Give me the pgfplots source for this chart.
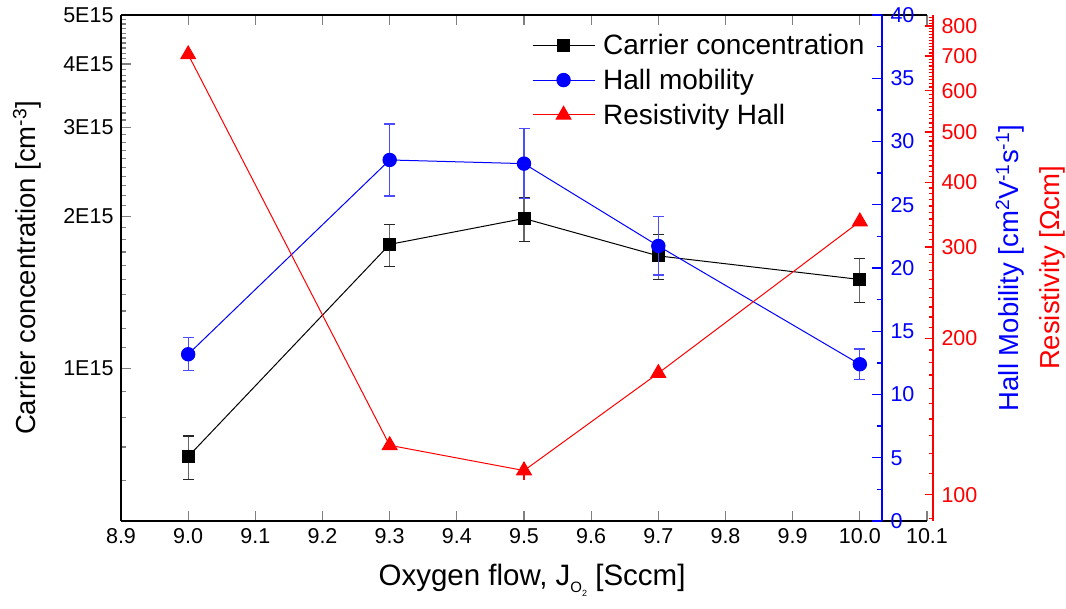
\documentclass[border=0pt]{standalone}
\usepackage{pgfplots}
\pgfplotsset{compat=1.18}
\usepackage{fontspec}
\setmainfont{Liberation Sans}
\begin{document}
\begin{tikzpicture}[x=1pt,y=1pt]
\path[use as bounding box] (0,0) rectangle (1066,608);
\pgfplotsset{
  every axis/.append style={
    scale only axis, height=506pt,
    at={(121pt,87pt)}, anchor=south west,
    xmin=8.9,
    tick label style={font=\fontsize{21.5}{24}\selectfont},
    label style={font=\fontsize{27.5}{30}\selectfont},
    /pgf/number format/assume math mode=true,
    tick style={line width=1.3pt},
  }
}
% ---------------- main axis: carrier concentration ----------------
\begin{axis}[
  width=806pt, xmax=10.1,
  axis x line*=box, axis y line*=left,
  axis line style={line width=1.6pt,-},
  ymode=log, ymin=5e14, ymax=5e15,
  xtick={8.9,9,9.1,9.2,9.3,9.4,9.5,9.6,9.7,9.8,9.9,10,10.1},
  xticklabels={8.9,9.0,9.1,9.2,9.3,9.4,9.5,9.6,9.7,9.8,9.9,10.0,10.1},
  xtick pos=both, ytick pos=left,
  ytick={1e15,2e15,3e15,4e15,5e15},
  yticklabels={1E15,2E15,3E15,4E15,5E15},
  minor ytick={6e14,7e14,8e14,9e14,1.1e15,1.2e15,1.3e15,1.4e15,1.5e15,1.6e15,1.7e15,1.8e15,1.9e15,2.1e15,2.2e15,2.3e15,2.4e15,2.5e15,2.6e15,2.7e15,2.8e15,2.9e15,3.1e15,3.2e15,3.3e15,3.4e15,3.5e15,3.6e15,3.7e15,3.8e15,3.9e15,4.1e15,4.2e15,4.3e15,4.4e15,4.5e15,4.6e15,4.7e15,4.8e15,4.9e15},
  major tick length=10pt, minor tick length=5pt,
  xticklabel style={yshift=-4pt},
  yticklabel style={xshift=-4pt},
  xlabel={Oxygen flow, J\raisebox{-0.45ex}{\fontsize{15}{15}\selectfont O\raisebox{-0.5ex}{\fontsize{9}{9}\selectfont 2}} [Sccm]},
  xlabel style={font=\fontsize{29.5}{32}\selectfont, at={(axis description cs:0.51,-0.1166)}, anchor=center},
  ylabel={Carrier concentration [cm\textsuperscript{-3}]},
  ylabel style={at={(axis description cs:-0.1166,0.5)}, anchor=center},
]
\addplot[black, line width=1pt, mark=square*, mark size=6pt, mark options={solid},
  error bars/.cd, y dir=both, y explicit,
  error bar style={black!60, line width=1.2pt},
  error mark options={black!85, rotate=90, mark size=5.5pt, line width=1.2pt}]
  coordinates {
  (9.0,6.70e14) +- (0,0.66e14)
  (9.3,1.76e15) +- (0,0.17e15)
  (9.5,1.98e15) +- (0,0.20e15)
  (9.7,1.67e15) +- (0,0.17e15)
  (10.0,1.50e15) +- (0,0.15e15)
  };
\end{axis}
% ---------------- blue axis: Hall mobility ----------------
\begin{axis}[
  width=761pt, xmax=10.0330,
  axis x line=none, axis y line*=right,
  y axis line style={blue, line width=1.6pt, -},
  ymin=0, ymax=40,
  ytick={0,5,10,15,20,25,30,35,40},
  minor ytick={2.5,7.5,12.5,17.5,22.5,27.5,32.5,37.5},
  major tick length=10pt, minor tick length=5pt,
  ytick style={blue, line width=1.3pt},
  yticklabel style={blue, xshift=5pt},
  ylabel={Hall Mobility [cm\textsuperscript{2}V\textsuperscript{-1}s\textsuperscript{-1}]},
  ylabel style={blue, at={(axis description cs:1.168,0.5)}, anchor=center},
]
\addplot[blue, line width=1pt, mark=*, mark size=6.7pt, mark options={solid},
  error bars/.cd, y dir=both, y explicit,
  error bar style={blue!70, line width=1.2pt},
  error mark options={blue!70, rotate=90, mark size=5.5pt, line width=1.2pt}]
  coordinates {
  (9.0,13.18) +- (0,1.30)
  (9.3,28.54) +- (0,2.85)
  (9.5,28.25) +- (0,2.75)
  (9.7,21.74) +- (0,2.30)
  (10.0,12.39) +- (0,1.20)
  };
\end{axis}
% ---------------- red axis: resistivity ----------------
\begin{axis}[
  width=812pt, xmax=10.1089,
  axis x line=none, axis y line*=right,
  y axis line style={red, line width=1.6pt, -},
  ymode=log, ymin=89, ymax=840,
  ytick={100,200,300,400,500,600,700,800},
  yticklabels={100,200,300,400,500,600,700,800},
  minor ytick={90,110,120,130,140,150,160,170,180,190,210,220,230,240,250,260,270,280,290,310,320,330,340,350,360,370,380,390,410,420,430,440,450,460,470,480,490,510,520,530,540,550,560,570,580,590,610,620,630,640,650,660,670,680,690,710,720,730,740,750,760,770,780,790,810,820,830},
  major tick length=8pt, minor tick length=4pt,
  ytick style={red, line width=1.3pt},
  yticklabel style={red, xshift=5pt},
  ylabel={Resistivity [Ωcm]},
  ylabel style={red, at={(axis description cs:1.1466,0.5)}, anchor=center},
  legend cell align=left,
  legend style={draw=none, fill=none, inner sep=0pt,
    at={(axis description cs:0.506,0.966)}, anchor=north west,
    font=\fontsize{28}{31}\selectfont, row sep=9pt,
    nodes={inner sep=2pt},
    /tikz/every odd column/.append style={column sep=6pt}},
  legend image code/.code={\draw[#1, mark repeat=2, mark phase=2] plot coordinates {(0pt,0pt) (31pt,0pt) (62pt,0pt)};},
]
\addlegendimage{black, line width=1pt, mark=square*, mark size=6pt, mark options={solid}}
\addlegendentry{Carrier concentration}
\addlegendimage{blue, line width=1pt, mark=*, mark size=6.7pt, mark options={solid}}
\addlegendentry{Hall mobility}
\addplot[red, line width=1pt, mark=triangle*, mark size=8.5pt, mark options={solid},
  error bars/.cd, y dir=both, y explicit,
  error bar style={red, line width=1.2pt},
  error mark options={red, rotate=90, mark size=0pt}]
  coordinates {
  (9.0,705) +- (0,0)
  (9.3,124.5) +- (0,0)
  (9.5,111.3) +- (0,4.5)
  (9.7,171.5) +- (0,0)
  (10.0,336) +- (0,0)
  };
\addlegendentry{Resistivity Hall}
\end{axis}
\end{tikzpicture}
\end{document}
